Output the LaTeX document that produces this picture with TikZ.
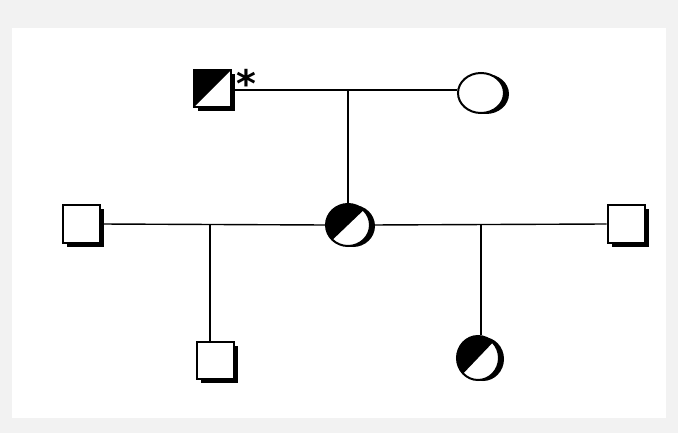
\documentclass[tikz,border=0pt]{standalone}
\usepackage{fontspec}
\newfontfamily\astfont{DejaVu Sans}
\usetikzlibrary{shapes.geometric}
\begin{document}
\begin{tikzpicture}[x=1pt,y=-1pt,
  sq/.style={draw=black,line width=2pt,fill=white,minimum size=37pt,inner sep=0pt},
  ci/.style={draw=black,line width=2pt,fill=white,ellipse,minimum width=44pt,minimum height=42pt,inner sep=0pt},
  halfsq/.style={path picture={\fill[black] (path picture bounding box.south west)--(path picture bounding box.north west)--(path picture bounding box.north east)--cycle;}},
  halfci/.style={path picture={\fill[black] (path picture bounding box.south west)--(path picture bounding box.north west)--(path picture bounding box.north east)--cycle;}},
  link/.style={line width=1.4pt,black}]
\useasboundingbox (0,0) rectangle (678,433);
\fill[black!5] (0,0) rectangle (678,433);
\fill[white] (12,28) rectangle (666,418);
% shadows
\foreach \x/\y in {212/89, 81/224, 626/224, 215/360}{
  \fill[black] (\x-18.5+4,\y-18.5+4) rectangle (\x+18.5+4,\y+18.5+4);
}
\foreach \x/\y/\w/\h in {483/93/23/20, 350/225/22/21, 480/358/21/22}{
  \fill[black] (\x+3,\y+1) ellipse [x radius=\w, y radius=\h];
}
% nodes
\node[sq,halfsq] (f) at (212,89) {};
\node[ci,minimum width=46pt,minimum height=40pt] (m) at (481,93) {};
\node[ci,halfci] (c) at (348,225) {};
\node[sq] (l) at (81,224) {};
\node[sq] (r) at (626,224) {};
\node[sq] (g) at (215,360) {};
\node[ci,halfci,minimum width=42pt,minimum height=44pt] (d) at (478,358) {};
\node[font=\astfont\bfseries\fontsize{38}{38}\selectfont,inner sep=0pt] (ast) at (246,83) {*};
% connectors
\coordinate (tm) at (348,90);
\coordinate (lm) at (210,225);
\coordinate (rm) at (481,225);
\draw[link] (f.east|-tm) -- (m.west|-tm);
\draw[link] (tm) -- (c.north);
\draw[link] (l.east) -- (c.west);
\draw[link] (c.east) -- (r.west);
\draw[link] (lm) -- (lm|-g.north);
\draw[link] (rm) -- (rm|-d.north);
\end{tikzpicture}
\end{document}
